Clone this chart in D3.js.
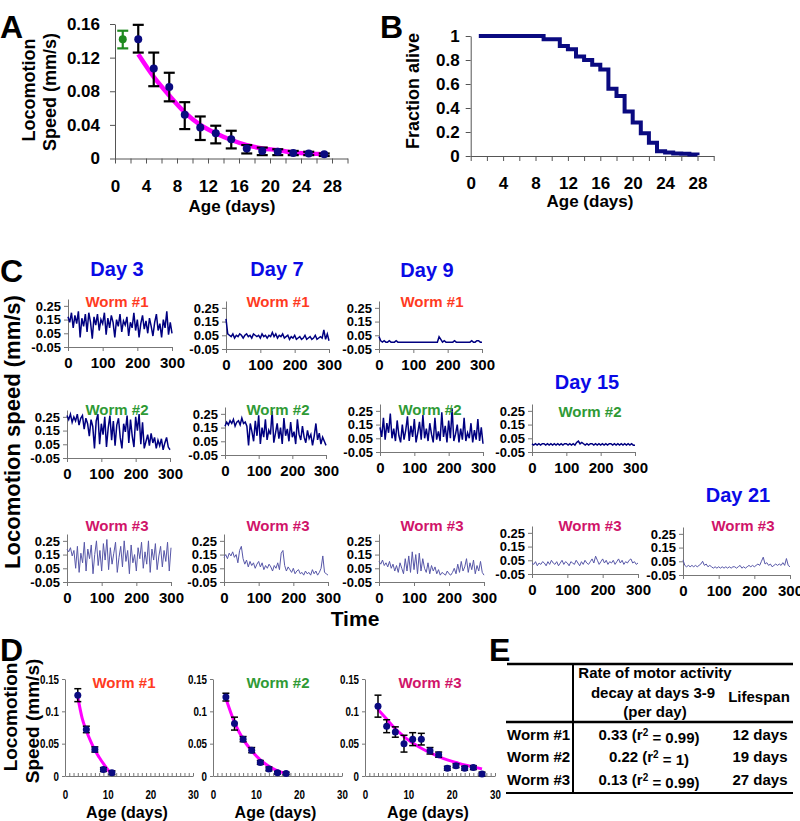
<!DOCTYPE html>
<html><head><meta charset="utf-8">
<script src="https://cdn.jsdelivr.net/npm/d3@7"></script>
<style>
body{margin:0;background:#fff}
svg{display:block}
text{font-family:Arial,"Liberation Sans",sans-serif;font-weight:bold}
</style>
</head><body>
<svg id="c" width="800" height="821"></svg>
<script>
// ---------------- DATA ----------------
// Panel A: population locomotion speed vs age
const aRefAge = [1], aRefMean = [0.142], aRefLo = [0.131], aRefHi = [0.152];
const aAge  = [3,5,7,9,11,13,15,17,19,21,23,25,27];
const aMean = [0.142,0.107,0.085,0.052,0.037,0.030,0.023,0.012,0.009,0.008,0.0065,0.006,0.005];
const aLo   = [0.126,0.086,0.068,0.035,0.022,0.018,0.012,0.006,0.004,0.004,0.004,0.004,0.003];
const aHi   = [0.159,0.126,0.102,0.067,0.050,0.039,0.033,0.016,0.013,0.011,0.009,0.008,0.006];
const aFit  = [0.124,0.097,0.075,0.055,0.040,0.030,0.022,0.016,0.012,0.010,0.007,0.006,0.005];
const aYTicks = [0,0.04,0.08,0.12,0.16];

// Panel B: survival
const bAge  = [1,9,11,12,13,14,15,16,17,18,19,20,21,22,23,24,25,26,27,28];
const bFrac = [1,0.972,0.917,0.89,0.83,0.80,0.76,0.72,0.56,0.50,0.37,0.28,0.19,0.11,0.04,0.03,0.02,0.018,0.012,0.006];
const bYTicks = [0,0.2,0.4,0.6,0.8,1];

// Panel C: speed traces (mm/s), one sample every 5 s over 300 s
const trD3W1 = [0.17,0.13,0.2,0.09,0.18,0.12,0.21,0.02,0.16,0.1,0.19,0.06,0.2,0.13,0.01,0.17,0.11,0.19,0.07,0.15,0.12,0.2,0.04,0.16,0.09,0.18,0.13,0.02,0.15,0.1,0.19,0.06,0.14,0.11,0.17,0.03,0.13,0.09,0.2,0.07,0.15,0.02,0.12,0.18,0.08,0.14,0.05,0.16,0.1,0.03,0.13,0.19,0.07,0.12,0.02,0.15,0.09,0.21,0.04,0.13,0.05];
const trD7W1 = [0.17,0.06,0.05,0.04,0.06,0.03,0.05,0.04,0.06,0.05,0.03,0.05,0.06,0.04,0.05,0.03,0.06,0.05,0.04,0.05,0.03,0.06,0.04,0.05,0.03,0.05,0.04,0.07,0.04,0.06,0.03,0.05,0.04,0.06,0.03,0.04,0.05,0.02,0.04,0.03,0.05,0.02,0.03,0.04,0.02,0.03,0.05,0.02,0.03,0.04,0.02,0.03,0.05,0.02,0.03,0.04,0.03,0.09,0.02,0.06,0.01];
const trD9W1 = [0.04,0.01,0.0,0.01,0.0,0.0,0.01,0.0,0.0,0.0,0.01,0.0,0.0,0.0,0.0,0.0,0.0,0.0,0.0,0.0,0.0,0.0,0.0,0.0,0.0,0.0,0.0,0.0,0.0,0.0,0.0,0.0,0.0,0.0,0.0,0.04,0.02,0.0,0.01,0.0,0.0,0.0,0.0,0.0,0.01,0.0,0.0,0.0,0.0,0.0,0.0,0.0,0.0,0.0,0.01,0.0,0.0,0.01,0.01,0.0,0.0];
const trD3W2 = [0.26,0.23,0.27,0.21,0.25,0.22,0.27,0.19,0.24,0.26,0.16,0.24,0.2,0.11,0.23,0.18,0.02,0.22,0.27,0.05,0.2,0.12,0.25,0.03,0.17,0.26,0.08,0.22,0.04,0.19,0.24,0.1,0.02,0.2,0.14,0.26,0.06,0.23,0.11,0.03,0.25,0.15,0.27,0.05,0.21,0.02,0.07,0.12,0.04,0.13,0.06,0.1,0.02,0.08,0.04,0.09,0.01,0.06,0.1,0.03,0.01];
const trD7W2 = [0.16,0.19,0.17,0.2,0.18,0.21,0.16,0.19,0.2,0.17,0.22,0.18,0.19,0.16,0.02,0.18,0.12,0.05,0.2,0.09,0.24,0.03,0.15,0.08,0.21,0.06,0.13,0.1,0.27,0.04,0.11,0.18,0.07,0.15,0.03,0.22,0.09,0.14,0.05,0.19,0.08,0.12,0.03,0.21,0.1,0.06,0.16,0.08,0.04,0.13,0.07,0.1,0.02,0.09,0.18,0.06,0.11,0.03,0.08,0.05,0.02];
const trD9W2 = [0.13,0.06,0.2,0.04,0.16,0.09,0.23,0.05,0.12,0.03,0.18,0.07,0.02,0.15,0.04,0.11,0.21,0.03,0.14,0.06,0.19,0.02,0.09,0.17,0.04,0.22,0.05,0.12,0.03,0.16,0.08,0.02,0.2,0.04,0.1,0.03,0.24,0.06,0.14,0.02,0.18,0.05,0.27,0.03,0.08,0.15,0.02,0.12,0.04,0.2,0.03,0.09,0.05,0.16,0.02,0.11,0.04,0.19,0.03,0.13,0.01];
const trD15W2 = [0.01,0.0,0.01,0.0,0.01,0.0,0.01,0.01,0.0,0.01,0.0,0.01,0.0,0.01,0.0,0.01,0.0,0.01,0.0,0.01,0.01,0.0,0.01,0.0,0.01,0.0,0.02,0.03,0.01,0.02,0.01,0.0,0.01,0.0,0.01,0.01,0.0,0.01,0.0,0.01,0.0,0.01,0.0,0.01,0.0,0.01,0.01,0.0,0.01,0.0,0.01,0.0,0.01,0.0,0.01,0.0,0.01,0.0,0.01,0.0,0.0];
const trD3W3 = [0.19,0.17,0.2,0.14,0.18,0.05,0.21,0.02,0.16,0.09,0.24,0.03,0.19,0.12,0.22,0.01,0.15,0.25,0.07,0.18,0.03,0.23,0.11,0.26,0.04,0.2,0.08,0.16,0.24,0.02,0.13,0.21,0.06,0.25,0.1,0.18,0.01,0.22,0.09,0.15,0.03,0.2,0.12,0.24,0.05,0.17,0.08,0.25,0.02,0.19,0.11,0.23,0.04,0.14,0.21,0.06,0.18,0.1,0.24,0.03,0.2];
const trD7W3 = [0.13,0.15,0.12,0.16,0.14,0.17,0.13,0.15,0.09,0.18,0.21,0.12,0.08,0.11,0.06,0.1,0.07,0.09,0.05,0.08,0.1,0.06,0.09,0.04,0.07,0.05,0.08,0.06,0.03,0.07,0.05,0.09,0.04,0.16,0.18,0.07,0.03,0.06,0.04,0.02,0.05,0.01,0.03,0.04,0.01,0.02,0.0,0.03,0.01,0.02,0.0,0.04,0.01,0.03,0.0,0.02,0.05,0.14,0.02,0.01,0.0];
const trD9W3 = [0.1,0.08,0.11,0.07,0.09,0.06,0.1,0.05,0.08,0.03,0.07,0.02,0.09,0.05,0.01,0.12,0.03,0.14,0.02,0.17,0.04,0.15,0.01,0.16,0.03,0.12,0.05,0.02,0.09,0.01,0.07,0.03,0.06,0.01,0.04,0.0,0.02,0.01,0.0,0.03,0.01,0.0,0.02,0.05,0.01,0.08,0.02,0.1,0.03,0.06,0.12,0.02,0.09,0.04,0.11,0.01,0.07,0.03,0.1,0.02,0.0];
const trD15W3 = [0.03,0.02,0.04,0.01,0.03,0.02,0.04,0.03,0.01,0.04,0.02,0.05,0.03,0.02,0.04,0.01,0.03,0.05,0.02,0.04,0.03,0.01,0.04,0.03,0.02,0.05,0.03,0.01,0.04,0.02,0.05,0.03,0.02,0.04,0.06,0.03,0.08,0.05,0.02,0.04,0.06,0.03,0.05,0.02,0.04,0.03,0.05,0.02,0.04,0.06,0.03,0.05,0.02,0.04,0.03,0.05,0.06,0.03,0.04,0.02,0.03];
const trD21W3 = [0.06,0.02,0.01,0.02,0.01,0.02,0.01,0.02,0.01,0.02,0.03,0.05,0.02,0.03,0.01,0.02,0.01,0.0,0.01,0.0,0.01,0.0,0.01,0.0,0.01,0.0,0.01,0.0,0.01,0.01,0.0,0.01,0.02,0.0,0.01,0.0,0.01,0.02,0.01,0.02,0.01,0.02,0.03,0.02,0.05,0.08,0.03,0.04,0.02,0.03,0.01,0.02,0.03,0.02,0.03,0.02,0.04,0.02,0.07,0.02,0.01];
const traceStep = 5;
const cYTicks = [-0.05,0.05,0.15,0.25];
const cXTicks = [0,100,200,300];
const dayTitles = ["Day 3","Day 7","Day 9","Day 15","Day 21"];
const wormNames = ["Worm #1","Worm #2","Worm #3"];

// Panel D: individual worms
const dW1Age=[3,5,7,9,11], dW1Mean=[0.125,0.072,0.041,0.010,0.005], dW1Err=[0.010,0.005,0.004,0.003,0.003];
const dW1Fit=[0.122,0.09,0.07,0.054,0.04,0.029,0.019,0.01,0.003]; const dW1FitAge=[3,4,5,6,7,8,9,10,11];
const dW2Age=[3,5,7,9,11,13,15,17], dW2Mean=[0.122,0.081,0.057,0.040,0.021,0.011,0.005,0.004], dW2Err=[0.006,0.010,0.004,0.004,0.003,0.003,0.002,0.002];
const dW2Fit=[0.12,0.083,0.057,0.039,0.025,0.015,0.008,0.004]; const dW2FitAge=[3,5,7,9,11,13,15,17];
const dW3Age=[3,5,7,9,11,13,15,17,19,21,23,25,27], dW3Mean=[0.108,0.077,0.068,0.050,0.057,0.057,0.039,0.033,0.012,0.016,0.012,0.013,0.003], dW3Err=[0.017,0.010,0.008,0.013,0.010,0.009,0.005,0.004,0.003,0.003,0.003,0.003,0.003];
const dW3Fit=[0.103,0.088,0.073,0.061,0.051,0.043,0.036,0.030,0.025,0.021,0.017,0.014,0.011]; const dW3FitAge=[3,5,7,9,11,13,15,17,19,21,23,25,27];
const dYTicks=[0,0.05,0.1,0.15], dXTicks=[0,10,20,30];

// Panel E: table
const eRowNames=["Worm #1","Worm #2","Worm #3"];
const eRate=["0.33","0.22","0.13"], eR2=["0.99","1","0.99"], eLife=["12 days","19 days","27 days"];

// ---------------- DRAW ----------------
const svg = d3.select("#c");
svg.append("rect").attr("width",800).attr("height",821).attr("fill","#fff");
const FONT = 'Arial,"Liberation Sans",sans-serif';
const cWorm = ["#ff3b1f","#2f9a35","#d0146a"];
const navy = "#0a0a80";

function txt(x,y,s,size,opt={}){
  const t = svg.append("text").attr("x",x).attr("y",y).attr("font-size",size)
    .attr("text-anchor",opt.anchor||"middle").attr("dy",opt.dy||"0.35em")
    .attr("fill",opt.fill||"#000").text(s);
  return t;
}
function vtxt(x,y,s,size){
  svg.append("text").attr("transform",`translate(${x},${y}) rotate(-90)`)
    .attr("text-anchor","middle").attr("dy","0.35em").attr("font-size",size).text(s);
}
function styleAxis(g,size,color){
  g.attr("font-size",size).attr("font-family",FONT).attr("font-weight","bold");
  g.selectAll("path,line").attr("stroke",color).attr("stroke-width",1);
  g.selectAll("text").attr("fill","#000");
}
function narrow(g,f){
  g.selectAll("text").each(function(){
    const w=this.getComputedTextLength();
    if(w>0) d3.select(this).attr("textLength",w*f).attr("lengthAdjust","spacingAndGlyphs");
  });
}

// ---- Panel A ----
txt(0,27,"A",32,{anchor:"start",dy:0});
{
  const x = d3.scaleLinear().domain([0,30]).range([115,347.5]);
  const y = d3.scaleLinear().domain([0,0.16]).range([158.5,24]);
  const gx = svg.append("g").attr("transform","translate(0,158.5)")
    .call(d3.axisBottom(x).tickValues(d3.range(0,31,2)).tickFormat(d=> (d%4===0 && d<=28)? d : "").tickSize(5).tickPadding(16).tickSizeOuter(0));
  styleAxis(gx,17,"#555");
  const gy = svg.append("g").attr("transform","translate(115,0)")
    .call(d3.axisLeft(y).tickValues(aYTicks).tickFormat(d=>d===0?"0":d.toFixed(2)).tickSize(5).tickPadding(10).tickSizeOuter(0));
  styleAxis(gy,17,"#555");
  svg.append("path").datum(aAge.map((a,i)=>[a,aFit[i]]))
    .attr("d",d3.line().x(d=>x(d[0])).y(d=>y(d[1])).curve(d3.curveMonotoneX))
    .attr("fill","none").attr("stroke","#ff00ff").attr("stroke-width",4.5);
  function eb(ages,means,los,his,col,pc){
    ages.forEach((a,i)=>{
      const g = svg.append("g").attr("stroke",col).attr("stroke-width",2.2);
      g.append("line").attr("x1",x(a)).attr("x2",x(a)).attr("y1",y(los[i])).attr("y2",y(his[i]));
      g.append("line").attr("x1",x(a)-5.5).attr("x2",x(a)+5.5).attr("y1",y(los[i])).attr("y2",y(los[i]));
      g.append("line").attr("x1",x(a)-5.5).attr("x2",x(a)+5.5).attr("y1",y(his[i])).attr("y2",y(his[i]));
      svg.append("circle").attr("cx",x(a)).attr("cy",y(means[i])).attr("r",4).attr("fill",pc);
    });
  }
  eb(aRefAge,aRefMean,aRefLo,aRefHi,"#1f8a1f","#1f8a1f");
  eb(aAge,aMean,aLo,aHi,"#000",navy);
  vtxt(29,90,"Locomotion",18);
  vtxt(50,92,"Speed (mm/s)",18);
  txt(232,206,"Age (days)",17);
}

// ---- Panel B ----
txt(380,27,"B",32,{anchor:"start",dy:0});
{
  const x = d3.scaleLinear().domain([0,30]).range([470.7,713.7]);
  const y = d3.scaleLinear().domain([0,1]).range([156,36]);
  const gx = svg.append("g").attr("transform","translate(0,156)")
    .call(d3.axisBottom(x).tickValues(d3.range(0,31,2)).tickFormat(d=> (d%4===0 && d<=28)? d : "").tickSize(5).tickPadding(16).tickSizeOuter(0));
  styleAxis(gx,17,"#555");
  const gy = svg.append("g").attr("transform","translate(470.7,0)")
    .call(d3.axisLeft(y).tickValues(bYTicks).tickFormat(d=>(d===0||d===1)?String(d):d.toFixed(1)).tickSize(5).tickPadding(6).tickSizeOuter(0));
  styleAxis(gy,17,"#555");
  svg.append("path").datum(bAge.map((a,i)=>[a,bFrac[i]]))
    .attr("d",d3.line().x(d=>x(d[0])).y(d=>y(d[1])).curve(d3.curveStepAfter))
    .attr("fill","none").attr("stroke",navy).attr("stroke-width",4);
  vtxt(413,91,"Fraction alive",18);
  txt(590,201,"Age (days)",17);
}

// ---- Panel C ----
txt(0,271,"C",32,{anchor:"start",dy:0});
const traceLayout = [
  {data:trD3W1, x0:68,  yb:347, w:104, worm:0, lx:117, ly:302, light:false},
  {data:trD7W1, x0:226, yb:349, w:103, worm:0, lx:278, ly:302, light:false},
  {data:trD9W1, x0:379, yb:349, w:103, worm:0, lx:432, ly:302, light:false},
  {data:trD3W2, x0:67,  yb:458, w:103, worm:1, lx:117, ly:410, light:false},
  {data:trD7W2, x0:225, yb:455, w:101, worm:1, lx:278, ly:410, light:false},
  {data:trD9W2, x0:380, yb:452, w:103, worm:1, lx:430, ly:410, light:false},
  {data:trD15W2,x0:532, yb:452, w:103, worm:1, lx:590, ly:412, light:false},
  {data:trD3W3, x0:67,  yb:582, w:104, worm:2, lx:117, ly:526, light:true},
  {data:trD7W3, x0:224, yb:582, w:104, worm:2, lx:278, ly:526, light:true},
  {data:trD9W3, x0:379, yb:582, w:105, worm:2, lx:432, ly:526, light:true},
  {data:trD15W3,x0:532, yb:574, w:106, worm:2, lx:590, ly:526, light:true},
  {data:trD21W3,x0:683, yb:575, w:107, worm:2, lx:743, ly:526, light:true}
];
traceLayout.forEach(L=>{
  const x = d3.scaleLinear().domain([0,300]).range([L.x0,L.x0+L.w]);
  const y = d3.scaleLinear().domain([-0.05,0.3]).range([L.yb,L.yb-48]);
  const gx = svg.append("g").attr("transform",`translate(0,${L.yb})`)
    .call(d3.axisBottom(x).tickValues(cXTicks).tickSize(4).tickPadding(6).tickSizeOuter(0));
  styleAxis(gx,15,"#777");
  const gy = svg.append("g").attr("transform",`translate(${L.x0},0)`)
    .call(d3.axisLeft(y).tickValues(cYTicks).tickFormat(d=>d.toFixed(2)).tickSize(4).tickPadding(3).tickSizeOuter(0));
  styleAxis(gy,13,"#777");
  svg.append("path").datum(L.data)
    .attr("d",d3.line().x((d,i)=>x(i*traceStep)).y(d=>y(d)))
    .attr("fill","none").attr("stroke",L.light?"#5757a8":"#000080").attr("stroke-width",L.light?1:1.5);
  txt(L.lx,L.ly,wormNames[L.worm],15,{fill:cWorm[L.worm]});
});
const dayPos=[[117,269],[277,269],[427,270],[587,382],[738,495]];
dayTitles.forEach((d,i)=>txt(dayPos[i][0],dayPos[i][1],d,20,{fill:"#0a0ae6"}));
vtxt(12,432,"Locomotion speed (mm/s)",22);
txt(355,619,"Time",21);

// ---- Panel D ----
txt(0,650,"D",32,{anchor:"start",dy:0});
const dPanels = [
  {age:dW1Age,mean:dW1Mean,err:dW1Err,fit:dW1Fit,fitAge:dW1FitAge,x0:65,w:128,worm:0,lx:124},
  {age:dW2Age,mean:dW2Mean,err:dW2Err,fit:dW2Fit,fitAge:dW2FitAge,x0:213,w:129,worm:1,lx:278},
  {age:dW3Age,mean:dW3Mean,err:dW3Err,fit:dW3Fit,fitAge:dW3FitAge,x0:365,w:130,worm:2,lx:430}
];
dPanels.forEach(P=>{
  const x = d3.scaleLinear().domain([0,30]).range([P.x0,P.x0+P.w]);
  const y = d3.scaleLinear().domain([0,0.15]).range([776,679]);
  const gx = svg.append("g").attr("transform","translate(0,776)")
    .call(d3.axisTop(x).tickValues(d3.range(0,31,1)).tickFormat("").tickSize(3).tickSizeOuter(0));
  styleAxis(gx,13,"#777");
  const gxl = svg.append("g").attr("transform","translate(0,776)")
    .call(d3.axisBottom(x).tickValues(dXTicks).tickSize(0).tickPadding(14));
  gxl.select(".domain").remove();
  styleAxis(gxl,13,"#777");
  narrow(gxl,0.75);
  const gy = svg.append("g").attr("transform",`translate(${P.x0},0)`)
    .call(d3.axisLeft(y).tickValues(dYTicks).tickFormat(d=>String(d)).tickSize(3).tickPadding(3).tickSizeOuter(0));
  styleAxis(gy,13,"#777");
  narrow(gy,0.75);
  svg.append("path").datum(P.fitAge.map((a,i)=>[a,P.fit[i]]))
    .attr("d",d3.line().x(d=>x(d[0])).y(d=>y(d[1])).curve(d3.curveMonotoneX))
    .attr("fill","none").attr("stroke","#ff00ff").attr("stroke-width",3);
  P.age.forEach((a,i)=>{
    const g = svg.append("g").attr("stroke","#000").attr("stroke-width",1.5);
    const lo=P.mean[i]-P.err[i], hi=P.mean[i]+P.err[i];
    g.append("line").attr("x1",x(a)).attr("x2",x(a)).attr("y1",y(lo)).attr("y2",y(hi));
    g.append("line").attr("x1",x(a)-3.5).attr("x2",x(a)+3.5).attr("y1",y(lo)).attr("y2",y(lo));
    g.append("line").attr("x1",x(a)-3.5).attr("x2",x(a)+3.5).attr("y1",y(hi)).attr("y2",y(hi));
    svg.append("circle").attr("cx",x(a)).attr("cy",y(P.mean[i])).attr("r",3.5).attr("fill",navy);
  });
  txt(P.lx,683,wormNames[P.worm],15,{fill:cWorm[P.worm]});
  txt(P.x0+P.w/2-2,812,"Age (days)",16);
});
vtxt(10,717,"Locomotion",19);
vtxt(32,721,"Speed (mm/s)",19);

// ---- Panel E ----
txt(489,650,"E",32,{anchor:"start",dy:0});
{
  const L = (x1,y1,x2,y2,w)=>svg.append("line").attr("x1",x1).attr("y1",y1).attr("x2",x2).attr("y2",y2).attr("stroke","#000").attr("stroke-width",w);
  L(507,664,793,664,2.5); L(506,722,793,722,2.5); L(506,793,793,793,2.2); L(573,664,573,793,2);
  txt(655,673,"Rate of motor activity",15);
  txt(653,693,"decay at days 3-9",15);
  txt(655,712,"(per day)",15);
  txt(759,697,"Lifespan",15);
  const rowY=[735,757,780];
  eRowNames.forEach((n,i)=>{
    txt(507,rowY[i],n,15,{anchor:"start"});
    const t = txt(649,rowY[i],"",15);
    t.append("tspan").text(eRate[i]+" (r");
    t.append("tspan").attr("font-size",10).attr("dy","-0.45em").text("2");
    t.append("tspan").attr("dy","0.45em").text(" = "+eR2[i]+")");
    txt(760,rowY[i],eLife[i],15);
  });
}
</script>
</body></html>
